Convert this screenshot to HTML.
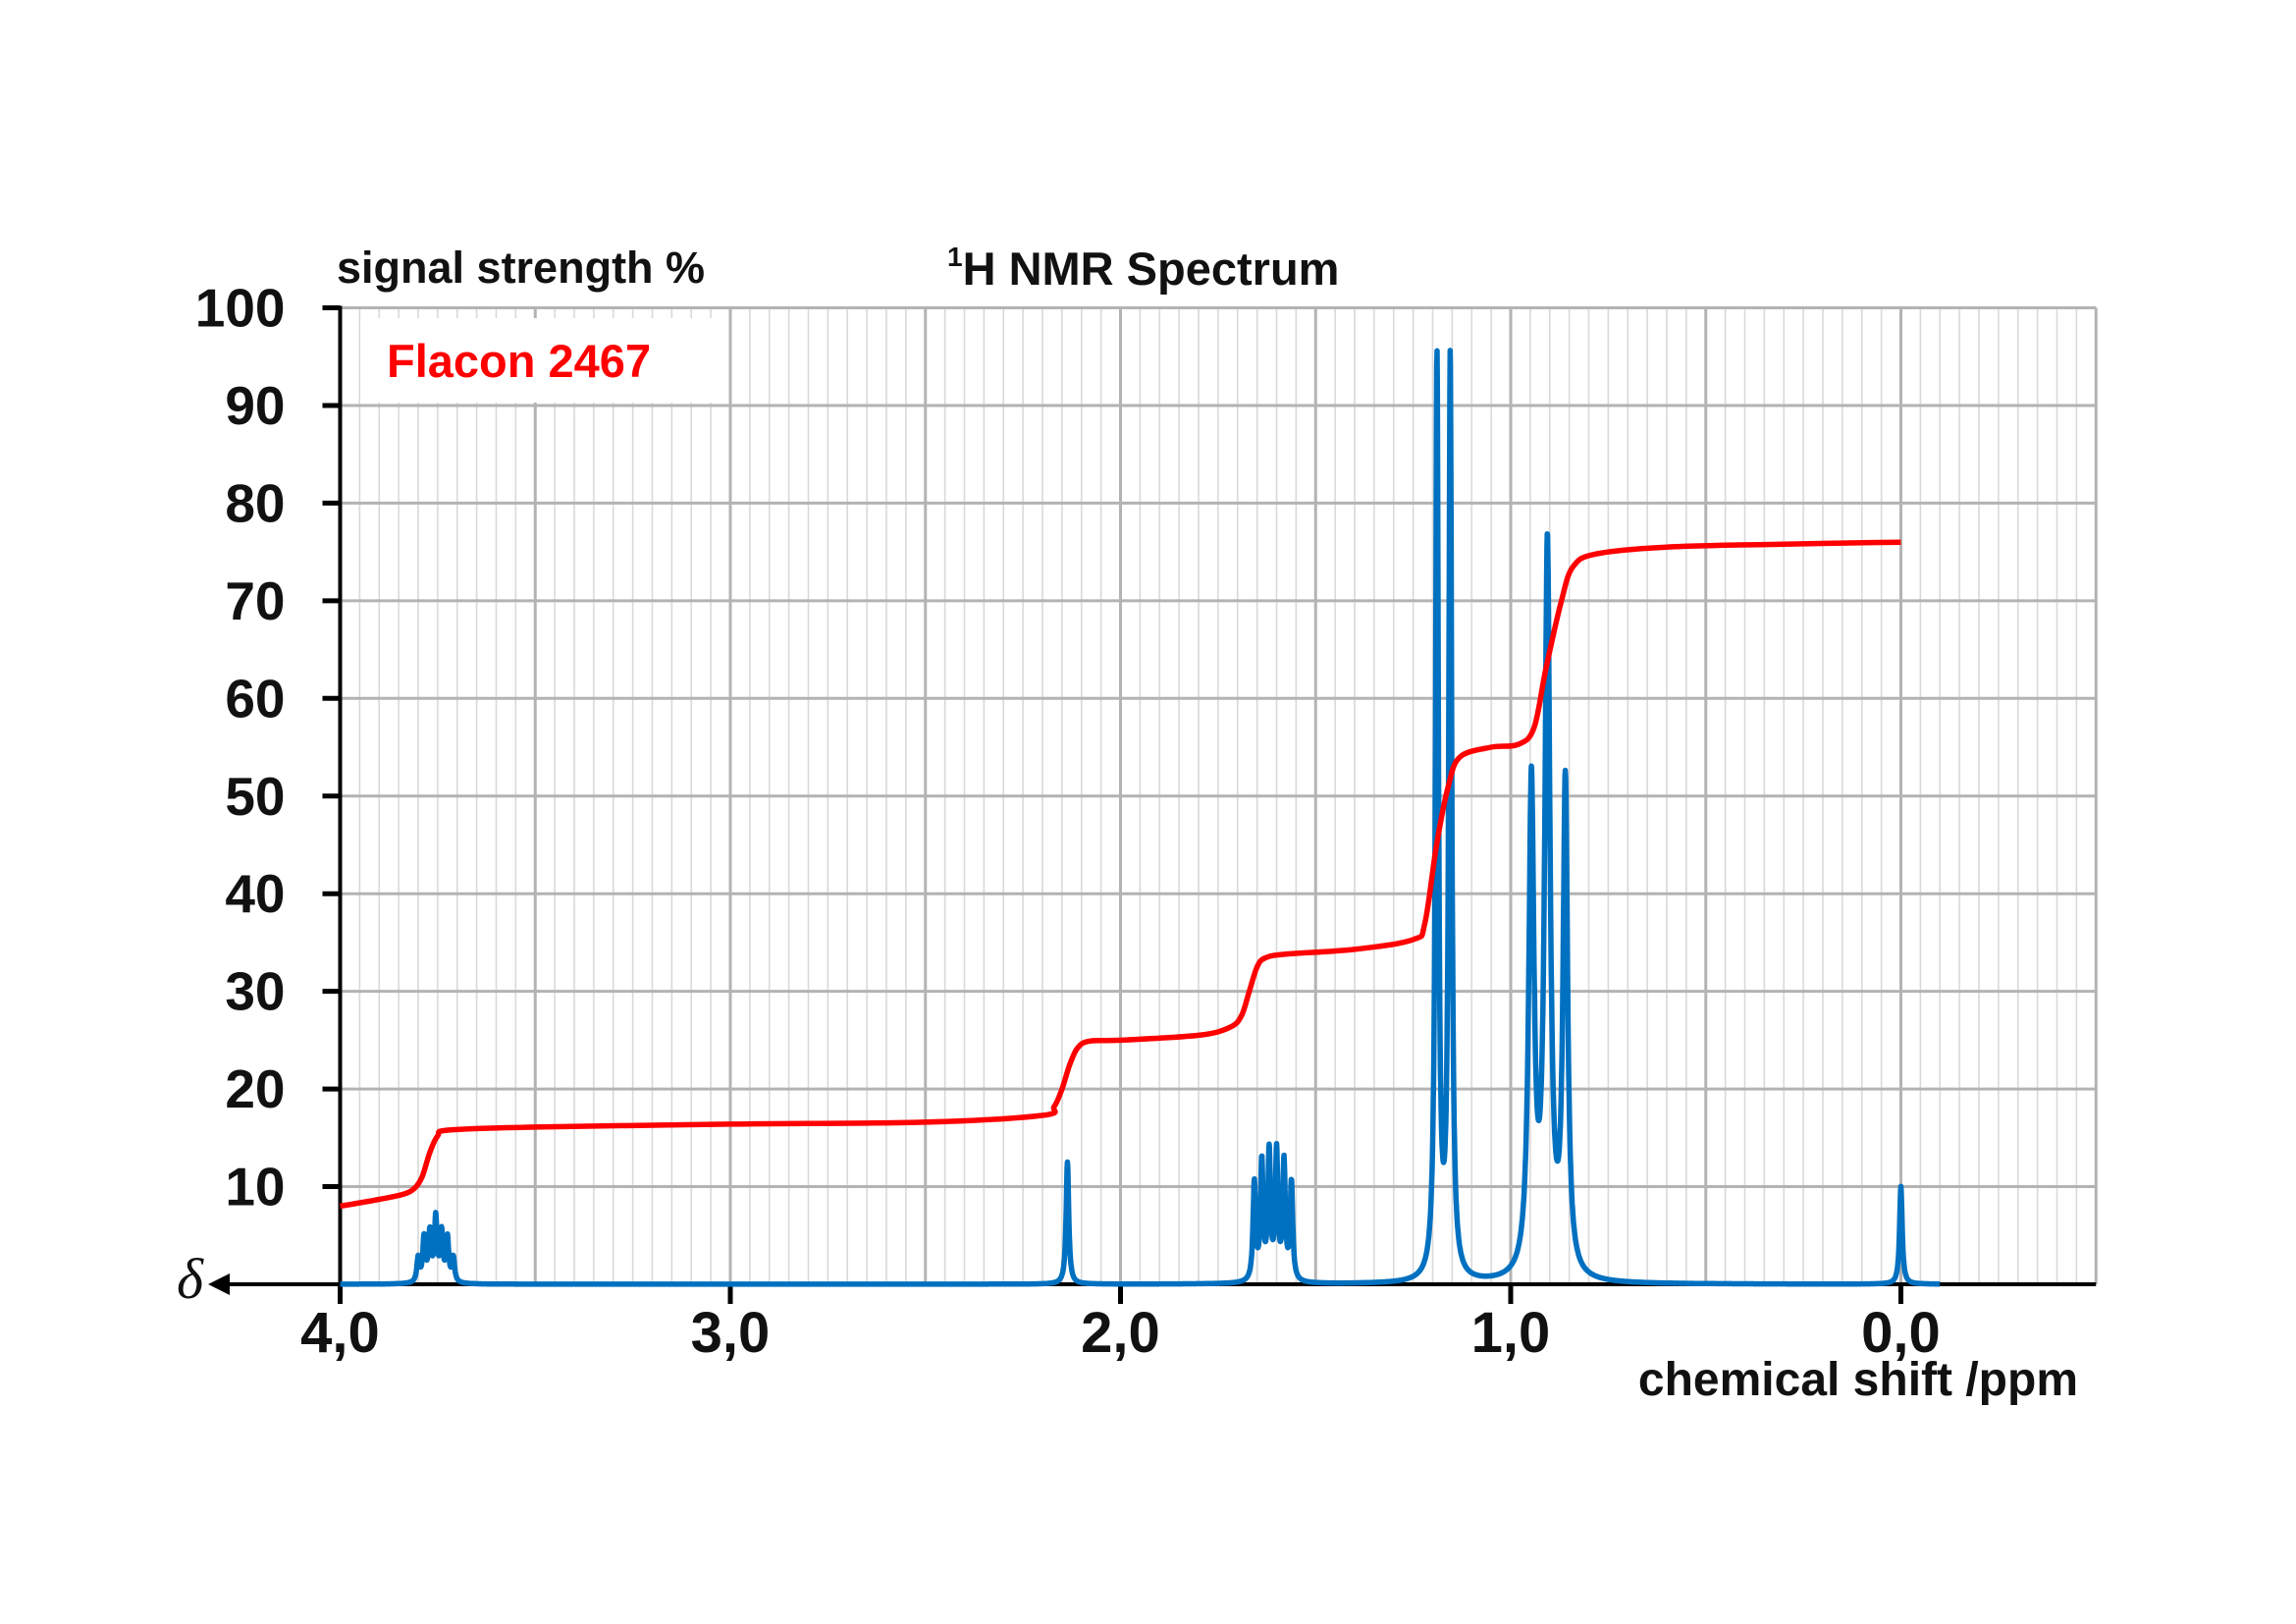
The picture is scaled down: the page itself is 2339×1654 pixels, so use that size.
<!DOCTYPE html>
<html><head><meta charset="utf-8"><style>
html,body{margin:0;padding:0;background:#fff;}
svg{display:block;font-family:"Liberation Sans",sans-serif;}
</style></head><body>
<svg id="chart" width="2339" height="1654" viewBox="0 0 2339 1654" xmlns="http://www.w3.org/2000/svg">
<g id="grid"></g>
<g id="axes"></g>
<rect x="367" y="324" width="373" height="86" fill="#fff"/>
<text x="394" y="384" font-size="47" font-weight="bold" fill="#ff0000">Flacon 2467</text>
<text x="343" y="288" font-size="45" font-weight="bold" fill="#111">signal strength %</text>
<text x="965" y="290" font-size="47" font-weight="bold" fill="#111"><tspan font-size="28" dy="-19">1</tspan><tspan dy="19">H NMR Spectrum</tspan></text>
<text x="2117" y="1421" text-anchor="end" font-size="48" font-weight="bold" fill="#111">chemical shift /ppm</text>
<text x="180" y="1322" font-family="Liberation Serif,serif" font-style="italic" font-size="58" fill="#111">δ</text>
<g id="series"></g>
</svg>
<script>
const yTicks=[10,20,30,40,50,60,70,80,90,100];
const xTickLabels=["4,0","3,0","2,0","1,0","0,0"];
const xTickValues=[4,3,2,1,0];
const peakPpm=[3.80,3.785,3.77,3.755,3.74,3.725,3.71, 2.136, 1.657,1.638,1.619,1.60,1.581,1.562, 1.189,1.155, 0.947,0.906,0.860, 0.0];
const peakHeight=[2.5,4.5,5,6.5,5,4.5,2.5, 12.5, 10,12,13,13,12,10, 94,94, 50,74,50, 10];
const peakWidth=[0.004,0.004,0.004,0.004,0.004,0.004,0.004, 0.004, 0.004,0.004,0.004,0.004,0.004,0.004, 0.0045,0.0045, 0.008,0.008,0.007, 0.004];
const integralPpm=[4.0,3.9,3.84,3.81,3.79,3.77,3.75,3.72,3.5,3.0,2.5,2.2,2.17,2.15,2.13,2.11,2.08,2.0,1.8,1.72,1.69,1.67,1.65,1.63,1.58,1.4,1.25,1.22,1.19,1.16,1.13,1.05,0.98,0.94,0.91,0.87,0.84,0.78,0.6,0.3,0.0];
const integralVal=[8,8.7,9.2,9.8,11,13.5,15.2,15.8,16.1,16.4,16.6,17.3,18.2,20,22.5,24.2,24.9,25.0,25.5,26.3,27.5,30,32.5,33.4,33.8,34.3,35.3,37,45,51,54,55,55.3,57,63,70,73.5,74.8,75.5,75.8,76];

const NS="http://www.w3.org/2000/svg";
const X=p=>346.5+(4-p)*397.5;
const Y=v=>1308-v*9.945;
function mk(tag,attrs,parent){const e=document.createElementNS(NS,tag);for(const k in attrs)e.setAttribute(k,attrs[k]);parent.appendChild(e);return e;}
const grid=document.getElementById('grid'),axes=document.getElementById('axes'),series=document.getElementById('series');
for(let i=1;i<90;i++){const p=4-i*0.05;if(i%10===0)continue;
 const l=mk('line',{x1:X(p),x2:X(p),y1:Y(100),y2:Y(0),stroke:'#d9d9d9','stroke-width':1.6},grid);
 }
for(let i=1;i<=9;i++){const p=4-i*0.5;
 const l=mk('line',{x1:X(p),x2:X(p),y1:Y(100),y2:Y(0),stroke:'#b3b3b3','stroke-width':3},grid);
 }
yTicks.forEach(v=>{const l=mk('line',{x1:X(4),x2:X(-0.5),y1:Y(v),y2:Y(v),stroke:'#b3b3b3','stroke-width':3},grid);
 
 const t=mk('line',{x1:X(4)-18,x2:X(4),y1:Y(v),y2:Y(v),stroke:'#000','stroke-width':5},axes);
 
 const tx=mk('text',{x:X(4)-56,y:Y(v)+19,'text-anchor':'end','font-size':55,'font-weight':'bold',fill:'#111'},axes);
 tx.textContent=v;});
let ax=mk('line',{x1:X(4),x2:X(4),y1:Y(100)-2,y2:Y(0),stroke:'#000','stroke-width':4},axes);

ax=mk('line',{x1:225,x2:X(-0.5),y1:Y(0),y2:Y(0),stroke:'#000','stroke-width':4},axes);

ax=mk('polygon',{points:`212,${Y(0)} 234,${Y(0)-11} 234,${Y(0)+11}`,fill:'#000'},axes);

xTickValues.forEach((p,i)=>{const t=mk('line',{x1:X(p),x2:X(p),y1:Y(0),y2:Y(0)+20,stroke:'#000','stroke-width':5},axes);
 
 const tx=mk('text',{x:X(p),y:1377,'text-anchor':'middle','font-size':58,'font-weight':'bold',fill:'#111'},axes);
 tx.textContent=xTickLabels[i];});
let d='';
for(let p=4.0;p>=-0.1;p-=0.0008){let s=0;
 for(let k=0;k<peakPpm.length;k++){const u=(p-peakPpm[k])/peakWidth[k];s+=peakHeight[k]/(1+u*u);}
 d+=(d?'L':'M')+X(p).toFixed(1)+','+Y(Math.min(s,100)).toFixed(1);}
const sp=mk('path',{d:d,fill:'none',stroke:'#0070c0','stroke-width':5.5,'stroke-linejoin':'round'},series);

const pts=integralPpm.map((p,i)=>[X(p),Y(integralVal[i])]);
let di='M'+pts[0][0]+','+pts[0][1];
for(let i=0;i<pts.length-1;i++){const p0=pts[Math.max(0,i-1)],p1=pts[i],p2=pts[i+1],p3=pts[Math.min(pts.length-1,i+2)];
 const c1=[p1[0]+(p2[0]-p0[0])/6,p1[1]+(p2[1]-p0[1])/6],c2=[p2[0]-(p3[0]-p1[0])/6,p2[1]-(p3[1]-p1[1])/6];
 di+=`C${c1[0].toFixed(1)},${c1[1].toFixed(1)} ${c2[0].toFixed(1)},${c2[1].toFixed(1)} ${p2[0].toFixed(1)},${p2[1].toFixed(1)}`;}
const ip=mk('path',{d:di,fill:'none',stroke:'#ff0000','stroke-width':5.5,'stroke-linejoin':'round'},series);

</script>
</body></html>
